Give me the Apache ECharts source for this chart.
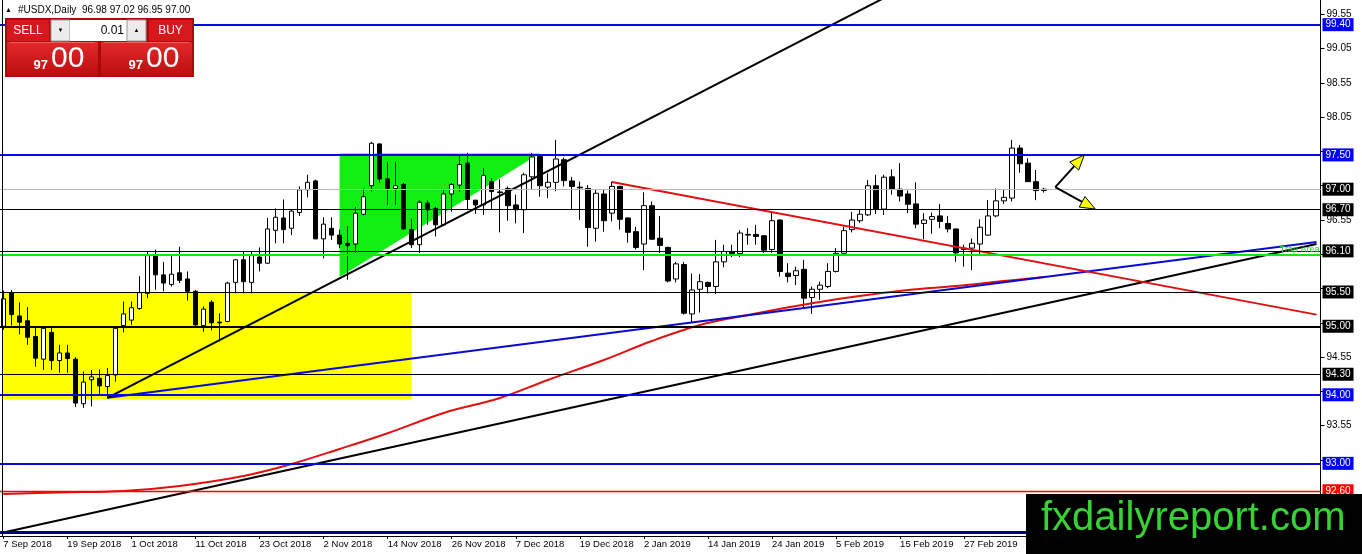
<!DOCTYPE html>
<html><head><meta charset="utf-8">
<script src="https://cdn.jsdelivr.net/npm/echarts@6/dist/echarts.min.js"></script>
<style>html,body{margin:0;padding:0;background:#fff;overflow:hidden}#c{width:1362px;height:554px}</style>
</head><body><div id="c"></div>
<script>
// ---------- DATA ----------
const dates = [
'7 Sep 2018','10 Sep 2018','11 Sep 2018','12 Sep 2018','13 Sep 2018','14 Sep 2018','17 Sep 2018','18 Sep 2018','19 Sep 2018','20 Sep 2018','21 Sep 2018','24 Sep 2018','25 Sep 2018','26 Sep 2018','27 Sep 2018','28 Sep 2018',
'1 Oct 2018','2 Oct 2018','3 Oct 2018','4 Oct 2018','5 Oct 2018','8 Oct 2018','9 Oct 2018','10 Oct 2018','11 Oct 2018','12 Oct 2018','15 Oct 2018','16 Oct 2018','17 Oct 2018','18 Oct 2018','19 Oct 2018','22 Oct 2018','23 Oct 2018','24 Oct 2018','25 Oct 2018','26 Oct 2018','29 Oct 2018','30 Oct 2018','31 Oct 2018',
'1 Nov 2018','2 Nov 2018','5 Nov 2018','6 Nov 2018','7 Nov 2018','8 Nov 2018','9 Nov 2018','12 Nov 2018','13 Nov 2018','14 Nov 2018','15 Nov 2018','16 Nov 2018','19 Nov 2018','20 Nov 2018','21 Nov 2018','22 Nov 2018','23 Nov 2018','26 Nov 2018','27 Nov 2018','28 Nov 2018','29 Nov 2018','30 Nov 2018',
'3 Dec 2018','4 Dec 2018','6 Dec 2018','7 Dec 2018','10 Dec 2018','11 Dec 2018','12 Dec 2018','13 Dec 2018','14 Dec 2018','17 Dec 2018','18 Dec 2018','19 Dec 2018','20 Dec 2018','21 Dec 2018','24 Dec 2018','26 Dec 2018','27 Dec 2018','28 Dec 2018','31 Dec 2018',
'2 Jan 2019','3 Jan 2019','4 Jan 2019','7 Jan 2019','8 Jan 2019','9 Jan 2019','10 Jan 2019','11 Jan 2019','14 Jan 2019','15 Jan 2019','16 Jan 2019','17 Jan 2019','18 Jan 2019','21 Jan 2019','22 Jan 2019','23 Jan 2019','24 Jan 2019','25 Jan 2019','28 Jan 2019','29 Jan 2019','30 Jan 2019','31 Jan 2019',
'1 Feb 2019','4 Feb 2019','5 Feb 2019','6 Feb 2019','7 Feb 2019','8 Feb 2019','11 Feb 2019','12 Feb 2019','13 Feb 2019','14 Feb 2019','15 Feb 2019','18 Feb 2019','19 Feb 2019','20 Feb 2019','21 Feb 2019','22 Feb 2019','25 Feb 2019','26 Feb 2019','27 Feb 2019','28 Feb 2019',
'1 Mar 2019','4 Mar 2019','5 Mar 2019','6 Mar 2019','7 Mar 2019','8 Mar 2019','11 Mar 2019','12 Mar 2019','13 Mar 2019'];

const tickLabels = ['7 Sep 2018','19 Sep 2018','1 Oct 2018','11 Oct 2018','23 Oct 2018','2 Nov 2018','14 Nov 2018','26 Nov 2018','7 Dec 2018','19 Dec 2018','2 Jan 2019','14 Jan 2019','24 Jan 2019','5 Feb 2019','15 Feb 2019','27 Feb 2019'];

const opens = [95.00,95.49,95.15,95.08,94.85,94.52,94.91,94.50,94.61,94.52, 93.87,94.22,94.24,94.12,94.29,95.01,95.09,95.26,95.48,96.03, 95.75,95.61,95.78,95.69,95.51,95.01,95.35,95.06,95.07,95.64, 95.97,95.64,96.01,95.92,96.40,96.58,96.43,96.66,96.99,97.12, 96.275,96.43,96.33,96.21,96.20,96.635,97.05,97.66,97.15,97.01, 97.07,96.41,96.19,96.795,96.72,96.48,96.93,97.06,97.38,96.84, 96.77,97.11,96.96,97.01,96.77,96.70,97.18,97.475,97.03,97.10, 97.43,97.12,97.03,97.01,96.43,96.93,96.65,97.04,96.58,96.38, 96.20,96.76,96.285,96.15,95.69,95.90,95.18,95.54,95.64,95.58, 95.94,96.09,96.06,96.34,96.34,96.32,96.12,96.55,95.775,95.74, 95.83,95.42,95.54,95.58,95.80,96.065,96.41,96.54,96.625,97.05, 96.71,97.18,97.00,96.93,96.785,96.50,96.56,96.61,96.50,96.42, 96.12,96.14,96.20,96.33,96.61,96.83,96.87,97.60,97.38,97.11, 96.98];
const highs = [95.52,95.53,95.35,95.28,94.98,95.00,94.98,94.73,94.73,94.55, 94.34,94.36,94.37,94.39,94.98,95.36,95.36,95.73,96.10,96.12, 95.94,96.03,96.16,95.80,95.53,95.29,95.38,95.19,95.65,95.98, 96.09,96.09,96.15,96.58,96.72,96.85,96.70,97.04,97.21,97.14, 96.59,96.59,96.41,96.46,96.74,97.01,97.69,97.67,97.40,97.40, 97.09,96.57,96.84,96.84,96.745,96.99,97.09,97.50,97.53,96.84, 97.31,97.16,97.145,97.04,96.92,97.24,97.53,97.50,97.23,97.72, 97.46,97.18,97.11,97.06,96.99,96.99,97.11,97.05,96.59,96.45, 96.955,96.82,96.61,96.16,95.94,95.94,95.77,95.76,95.65,96.26, 96.19,96.19,96.40,96.43,96.48,96.33,96.67,96.56,95.92,95.87, 95.97,95.58,95.65,95.92,96.14,96.455,96.67,96.70,97.135,97.21, 97.21,97.29,97.38,96.98,97.10,96.65,96.66,96.785,96.61,96.42, 96.19,96.28,96.56,96.84,97.01,96.99,97.72,97.645,97.45,97.28, 97.02];
const lows = [94.95,95.01,94.88,94.73,94.41,94.36,94.36,94.32,94.32,93.82, 93.81,93.83,94.00,93.95,94.19,94.91,95.02,95.24,95.41,95.53, 95.51,95.58,95.63,95.375,94.98,94.92,94.94,94.78,95.06,95.48, 95.48,95.48,95.80,95.91,96.21,96.21,96.33,96.61,96.88,96.27, 95.99,96.26,96.14,95.68,96.07,96.62,96.965,97.09,96.77,96.77, 96.41,96.14,96.07,96.48,96.31,96.46,96.67,96.965,96.70,96.64, 96.625,96.70,96.37,96.54,96.50,96.36,97.00,96.89,96.87,96.97, 97.04,96.70,96.55,96.16,96.235,96.38,96.53,96.41,96.22,96.12, 95.82,96.26,96.07,95.64,95.64,95.17,95.06,95.20,95.48,95.47, 95.86,96.01,96.01,96.19,96.19,96.07,96.07,95.725,95.64,95.60, 95.265,95.18,95.385,95.555,95.785,96.055,96.37,96.51,96.61,96.64, 96.625,96.92,96.82,96.65,96.43,96.27,96.35,96.43,96.37,95.94, 95.87,95.82,96.055,96.32,96.59,96.785,96.82,97.24,97.11,96.84, 96.95];
const closes = [95.40,95.17,95.06,94.84,94.535,94.97,94.50,94.61,94.53,93.88, 94.185,94.26,94.13,94.28,94.97,95.18,95.27,95.49,96.03,95.75, 95.63,95.76,95.67,95.51,95.02,95.25,95.05,95.05,95.63,95.97, 95.65,96.03,95.92,96.42,96.59,96.41,96.68,96.99,97.10,96.275, 96.49,96.33,96.20,96.18,96.65,96.89,97.67,97.15,97.01,97.05, 96.42,96.19,96.81,96.70,96.48,96.93,97.07,97.36,96.85,96.77, 97.20,96.965,96.95,96.76,96.70,97.21,97.47,97.05,97.10,97.44, 97.125,97.04,97.02,96.44,96.94,96.54,97.04,96.56,96.37,96.15, 96.76,96.27,96.18,95.66,95.91,95.19,95.53,95.65,95.58,95.94, 96.09,96.06,96.36,96.33,96.31,96.11,96.54,95.80,95.725,95.81, 95.41,95.54,95.60,95.80,96.065,96.395,96.55,96.635,97.05,96.71, 97.175,97.00,96.90,96.78,96.49,96.55,96.60,96.53,96.42,96.07, 96.14,96.21,96.445,96.61,96.83,96.88,97.60,97.37,97.11,96.98, 97.00];

// moving average (red curve) read at selected bars
const maBars   = [0,7,15,22,30,36,42,48,55,62,68,75,81,87,93,99,106,113,119,125,130];
const maValues = [92.553,92.575,92.597,92.67,92.815,92.99,93.21,93.44,93.735,93.953,94.216,94.508,94.785,95.018,95.164,95.296,95.427,95.529,95.587,95.66,95.719];

// trend lines: [bar index, price]
const blackUpBars = [13,110],   blackUpPrices = [93.956,99.79];
const blackLongBars = [0,164],  blackLongPrices = [91.99,96.20];
const blueTrendBars = [13,164], blueTrendPrices = [93.956,96.23];
const redDownBars = [76,164],   redDownPrices = [97.106,95.17];

// horizontal levels
const levelPrices = [99.40,97.50,97.00,96.70,96.10,96.04,95.50,95.00,94.30,94.00,93.00,92.60,92.00];
const levelTexts  = ['99.40','97.50','97.00','96.70','96.10','Trap Area','95.50','95.00','94.30','94.00','93.00','92.60',''];

// zones
const yellowBars = [0,51], yellowPrices = [95.50,93.93];
const triBars = [42,42,67], triPrices = [97.52,95.72,97.52];

// arrows
const arrowFromBar = 131.38, arrowFromPrice = 97.03;
const arrowToBars = [135.0,136.37], arrowToPrices = [97.50,96.71];

// y scale ticks and the tick labels that are visible
const yTicks = [92.05,92.55,93.05,93.55,94.05,94.55,95.05,95.55,96.05,96.55,97.05,97.55,98.05,98.55,99.05,99.55];
const yTickLabels = [93.55,94.55,96.55,98.05,98.55,99.05,99.55];

const yMin = 91.94, yMax = 99.76;
const SLOTS = 165;

// ---------- STYLE ----------
const F = '"Liberation Sans", Arial, sans-serif';
const BLUE = '#0a0ae6', BLACK = '#000', RED = '#e01010';
const levelStyle = [
  {c:BLUE,w:2,bg:'#0000ff'},{c:BLUE,w:2,bg:'#0000ff'},{c:'#b8b8b8',w:1,bg:'#000'},{c:BLACK,w:1,bg:'#000'},
  {c:BLACK,w:1,bg:'#000'},{c:'#13e613',w:2,bg:null},{c:BLACK,w:1,bg:'#000'},{c:BLACK,w:2,bg:'#000'},
  {c:BLACK,w:1,bg:'#000'},{c:BLUE,w:2,bg:'#0000ff'},{c:BLUE,w:2,bg:'#0000ff'},{c:'#ff0000',w:1.3,bg:'#ff0000'},
  {c:'#000080',w:3,bg:null}
];

const cats = dates.concat(Array.from({length: SLOTS - dates.length}, (_, i) => '~' + i));
const candleData = dates.map((d, i) => [opens[i], closes[i], lows[i], highs[i]]);
const showLabel = (idx, val) => tickLabels.indexOf(val) >= 0;

function fracCoord(api, bar, price) {
  const i = Math.floor(bar);
  const p = api.coord([i, price]);
  const step = api.size([1, 0])[0];
  return [p[0] + (bar - i) * step, p[1]];
}

const last = dates.length - 1;
const bidStr = closes[last].toFixed(2).split('.');
const headerStr = '#USDX,Daily  ' + [opens[last], highs[last], lows[last], closes[last]].map(v => v.toFixed(2)).join(' ');

const lineSeries = (bars, prices, color, width, z, smooth) => ({
  type:'line', data: bars.map((b, i) => [b, prices[i]]), symbol:'none', silent:true, z: z,
  lineStyle:{color:color, width:width}, clip:true, smooth: smooth || false
});

const chart = echarts.init(document.getElementById('c'));
const mkGrad = () => new echarts.graphic.LinearGradient(0,0,0,1,[{offset:0,color:'#e3292a'},{offset:1,color:'#bb0d10'}]);

chart.setOption({
  animation:false,
  backgroundColor:'#fff',
  grid:{left:-0.7, right:41.5, top:0, bottom:18, outerBoundsMode:'none', containLabel:false},
  xAxis:{
    type:'category', data:cats, boundaryGap:true,
    axisLine:{show:true, lineStyle:{color:'#000', width:1}},
    axisTick:{show:true, alignWithLabel:true, interval:showLabel, length:3, lineStyle:{color:'#000'}},
    axisLabel:{show:true, interval:showLabel, align:'left', margin:3, color:'#000', fontSize:9.5, fontFamily:F},
    splitLine:{show:false}
  },
  yAxis:{
    type:'value', position:'right', min:yMin, max:yMax, scale:true,
    axisLine:{show:true, lineStyle:{color:'#000', width:1}},
    axisTick:{show:true, length:4, customValues:yTicks, lineStyle:{color:'#000'}},
    axisLabel:{show:true, customValues:yTickLabels, formatter:v => Number(v).toFixed(2), color:'#000', fontSize:10, margin:6, fontFamily:F},
    splitLine:{show:false}
  },
  series:[
    {type:'line', data:[], silent:true, z:1,
     markArea:{silent:true, itemStyle:{color:'#ffff00', opacity:1},
       data:[[{xAxis:yellowBars[0], yAxis:yellowPrices[0]},{xAxis:yellowBars[1], yAxis:yellowPrices[1]}]]}},
    {type:'custom', silent:true, z:1, data:[[triBars[0], triPrices[0]]],
     renderItem:(params, api) => ({type:'polygon',
       shape:{points: triBars.map((b, i) => api.coord([b, triPrices[i]]))},
       style:{fill:'#11ee11'}})},
    {type:'candlestick', data:candleData, barWidth:5, silent:true, z:3,
     itemStyle:{color:'#ffffff', color0:'#000000', borderColor:'#000', borderColor0:'#000', borderColorDoji:'#000', borderWidth:1}},
    {type:'line', data:[], silent:true, z:4,
     markLine:{silent:true, symbol:['none','none'], animation:false,
       data: levelPrices.map((v, i) => {
         const s = levelStyle[i];
         let label;
         if (s.bg) label = {show:true, position:'end', distance:2, formatter: levelTexts[i], color:'#fff',
             backgroundColor:s.bg, padding:[2,3,1,3], fontSize:10, lineHeight:10, fontFamily:F};
         else if (levelTexts[i]) label = {show:true, position:'insideEndTop', distance:1, formatter: levelTexts[i], color:'#22dd22', fontSize:9, fontFamily:F};
         else label = {show:false};
         return {yAxis:v, lineStyle:{color:s.c, width:s.w, type:'solid'}, label:label};
       })}},
    lineSeries(maBars, maValues, RED, 2, 4, 0.35),
    lineSeries(blackLongBars, blackLongPrices, '#000', 2, 4),
    lineSeries(blueTrendBars, blueTrendPrices, '#0a0ad0', 2, 4),
    lineSeries(blackUpBars, blackUpPrices, '#000', 2, 4),
    lineSeries(redDownBars, redDownPrices, RED, 2, 4),
    {type:'custom', silent:true, z:6, data:[[Math.floor(arrowFromBar), arrowFromPrice]],
     renderItem:(params, api) => {
       const a = fracCoord(api, arrowFromBar, arrowFromPrice);
       const children = [];
       arrowToBars.forEach((b, k) => {
         const t = fracCoord(api, b, arrowToPrices[k]);
         const dx = t[0]-a[0], dy = t[1]-a[1], len = Math.hypot(dx, dy);
         const ux = dx/len, uy = dy/len, hl = 15, hw = 6;
         const bx = t[0]-ux*hl, by = t[1]-uy*hl;
         children.push({type:'line', shape:{x1:a[0], y1:a[1], x2:bx, y2:by}, style:{stroke:'#000', lineWidth:2}});
         children.push({type:'polygon', shape:{points:[[t[0],t[1]],[bx-uy*hw, by+ux*hw],[bx+uy*hw, by-ux*hw]]},
           style:{fill:'#ffff00', stroke:'#000', lineWidth:1}});
       });
       return {type:'group', children};
     }}
  ],
  graphic:[
    {type:'line', z:50, shape:{x1:2.5, y1:0, x2:2.5, y2:536}, style:{stroke:'#000', lineWidth:1}},
    {type:'text', z:50, x:5, y:10, style:{text:'▲', fontSize:7, fill:'#000', verticalAlign:'middle'}},
    {type:'text', z:50, x:18, y:10, style:{text:headerStr, font:'10px '+F, fill:'#000', verticalAlign:'middle'}},
    // trade panel
    {type:'rect', z:50, shape:{x:5, y:18, width:189, height:59}, style:{fill:'#a80a0a'}},
    {type:'rect', z:51, shape:{x:7, y:20, width:42, height:21}, style:{fill:'#d6181d'}},
    {type:'text', z:52, x:28, y:31, style:{text:'SELL', font:'12px '+F, fill:'#fff', align:'center', verticalAlign:'middle'}},
    {type:'rect', z:51, shape:{x:51, y:20, width:19, height:21}, style:{fill:'#ececec', stroke:'#9a9a9a', lineWidth:1}},
    {type:'text', z:52, x:60.5, y:30.5, style:{text:'▼', fontSize:6, fill:'#000', align:'center', verticalAlign:'middle'}},
    {type:'rect', z:51, shape:{x:70, y:20, width:57, height:21}, style:{fill:'#fff'}},
    {type:'text', z:52, x:124, y:31, style:{text:'0.01', font:'12px '+F, fill:'#000', align:'right', verticalAlign:'middle'}},
    {type:'rect', z:51, shape:{x:127, y:20, width:19, height:21}, style:{fill:'#ececec', stroke:'#9a9a9a', lineWidth:1}},
    {type:'text', z:52, x:136.5, y:30.5, style:{text:'▲', fontSize:6, fill:'#000', align:'center', verticalAlign:'middle'}},
    {type:'rect', z:51, shape:{x:149, y:20, width:43, height:21}, style:{fill:'#d6181d'}},
    {type:'text', z:52, x:170.5, y:31, style:{text:'BUY', font:'12px '+F, fill:'#fff', align:'center', verticalAlign:'middle'}},
    {type:'rect', z:51, shape:{x:7, y:42, width:91, height:34}, style:{fill:mkGrad()}},
    {type:'rect', z:51, shape:{x:101, y:42, width:91, height:34}, style:{fill:mkGrad()}},
    {type:'line', z:52, shape:{x1:10, y1:42.5, x2:95, y2:42.5}, style:{stroke:'#f06060', lineWidth:1}},
    {type:'line', z:52, shape:{x1:104, y1:42.5, x2:189, y2:42.5}, style:{stroke:'#f06060', lineWidth:1}},
    {type:'text', z:52, x:48, y:65.5, style:{text:bidStr[0], font:'bold 13px '+F, fill:'#fff', align:'right', verticalAlign:'middle'}},
    {type:'text', z:52, x:51, y:58.5, style:{text:bidStr[1], font:'30px '+F, fill:'#fff', align:'left', verticalAlign:'middle'}},
    {type:'text', z:52, x:143, y:65.5, style:{text:bidStr[0], font:'bold 13px '+F, fill:'#fff', align:'right', verticalAlign:'middle'}},
    {type:'text', z:52, x:146, y:58.5, style:{text:bidStr[1], font:'30px '+F, fill:'#fff', align:'left', verticalAlign:'middle'}},
    // watermark
    {type:'rect', z:60, shape:{x:1026, y:494, width:336, height:60}, style:{fill:'#000'}},
    {type:'text', z:61, x:1041, y:519, style:{text:'fxdailyreport.com', font:'40px '+F, fill:'#36d236', align:'left', verticalAlign:'middle'}}
  ]
});
</script>
</body></html>
